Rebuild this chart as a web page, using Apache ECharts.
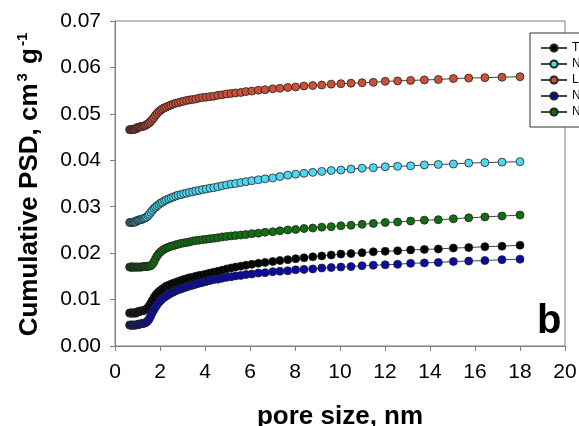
<!DOCTYPE html>
<html>
<head>
<meta charset="utf-8">
<script src="https://cdn.jsdelivr.net/npm/echarts@6/dist/echarts.min.js"></script>
<style>
html, body { margin: 0; padding: 0; background: #fff; }
#main { width: 579px; height: 426px; }
</style>
</head>
<body>
<div id="main"></div>
<script>
var chartDom = document.getElementById('main');
var myChart = echarts.init(chartDom);
var option;

// pore size, nm (shared by all samples)
var poreSize = [0.65, 0.68, 0.71, 0.74, 0.77, 0.80, 0.83, 0.86, 0.90, 0.94,
  0.98, 1.02, 1.06, 1.10, 1.15, 1.20, 1.25, 1.30, 1.35,
  1.41, 1.47, 1.53, 1.59, 1.66, 1.73, 1.80, 1.87, 1.95, 2.03, 2.11,
  2.20, 2.29, 2.39, 2.49, 2.59, 2.70, 2.81, 2.93, 3.05, 3.18,
  3.31, 3.45, 3.59, 3.74, 3.89, 4.05, 4.22, 4.39, 4.57, 4.76,
  4.96, 5.16, 5.36, 5.59, 5.82, 6.08, 6.37, 6.67, 7.01, 7.33,
  7.68, 8.03, 8.40, 8.79, 9.19, 9.61, 10.04, 10.49, 10.98, 11.48,
  12.01, 12.56, 13.14, 13.75, 14.37, 15.04, 15.72, 16.44, 17.20, 18.00];

var psdT = [0.0071, 0.0071, 0.0071, 0.0071, 0.0071, 0.0071, 0.0071, 0.0071, 0.0071, 0.0071,
  0.0073, 0.0074, 0.0074, 0.0075, 0.0075, 0.0076, 0.0076, 0.0077, 0.0078,
  0.0080, 0.0083, 0.0087, 0.0092, 0.0098, 0.0104, 0.0109, 0.0113, 0.0117, 0.0120, 0.0123,
  0.0126, 0.0129, 0.0131, 0.0133, 0.0135, 0.0137, 0.0139, 0.0141, 0.0143, 0.0145,
  0.0147, 0.0148, 0.0150, 0.0152, 0.0153, 0.0155, 0.0157, 0.0159, 0.0161, 0.0163,
  0.0166, 0.0168, 0.0170, 0.0172, 0.0174, 0.0176, 0.0178, 0.0180, 0.0182, 0.0184,
  0.0186, 0.0188, 0.0190, 0.0192, 0.0194, 0.0196, 0.0198, 0.0199, 0.0201, 0.0203,
  0.0204, 0.0205, 0.0207, 0.0208, 0.0209, 0.0211, 0.0212, 0.0214, 0.0215, 0.0217];

var psdN1 = [0.0266, 0.0266, 0.0266, 0.0266, 0.0266, 0.0267, 0.0267, 0.0267, 0.0267, 0.0268,
  0.0270, 0.0271, 0.0271, 0.0272, 0.0272, 0.0273, 0.0274, 0.0275, 0.0276,
  0.0278, 0.0281, 0.0284, 0.0288, 0.0292, 0.0296, 0.0299, 0.0302, 0.0305, 0.0308, 0.0310,
  0.0313, 0.0315, 0.0317, 0.0319, 0.0321, 0.0323, 0.0325, 0.0326, 0.0328, 0.0329,
  0.0331, 0.0332, 0.0334, 0.0335, 0.0337, 0.0338, 0.0340, 0.0341, 0.0343, 0.0345,
  0.0347, 0.0349, 0.0350, 0.0352, 0.0354, 0.0356, 0.0358, 0.0360, 0.0362, 0.0365,
  0.0368, 0.0370, 0.0372, 0.0374, 0.0376, 0.0378, 0.0379, 0.0381, 0.0383, 0.0384,
  0.0386, 0.0387, 0.0388, 0.0390, 0.0391, 0.0392, 0.0394, 0.0395, 0.0396, 0.0397];

var psdL = [0.0466, 0.0466, 0.0466, 0.0466, 0.0466, 0.0467, 0.0467, 0.0467, 0.0467, 0.0468,
  0.0470, 0.0471, 0.0471, 0.0472, 0.0472, 0.0473, 0.0473, 0.0474, 0.0475,
  0.0477, 0.0479, 0.0481, 0.0484, 0.0488, 0.0492, 0.0497, 0.0501, 0.0505, 0.0508, 0.0511,
  0.0513, 0.0515, 0.0517, 0.0519, 0.0521, 0.0523, 0.0524, 0.0526, 0.0527, 0.0529,
  0.0530, 0.0531, 0.0532, 0.0534, 0.0535, 0.0536, 0.0537, 0.0538, 0.0540, 0.0541,
  0.0543, 0.0544, 0.0545, 0.0546, 0.0548, 0.0549, 0.0551, 0.0552, 0.0554, 0.0555,
  0.0557, 0.0558, 0.0560, 0.0561, 0.0562, 0.0564, 0.0565, 0.0566, 0.0567, 0.0568,
  0.0570, 0.0571, 0.0572, 0.0573, 0.0574, 0.0576, 0.0577, 0.0578, 0.0579, 0.0580];

var psdN2 = [0.0045, 0.0045, 0.0045, 0.0045, 0.0045, 0.0045, 0.0045, 0.0045, 0.0045, 0.0045,
  0.0046, 0.0046, 0.0047, 0.0047, 0.0048, 0.0048, 0.0049, 0.0049, 0.0050,
  0.0052, 0.0055, 0.0059, 0.0065, 0.0072, 0.0078, 0.0084, 0.0089, 0.0094, 0.0098, 0.0102,
  0.0105, 0.0108, 0.0111, 0.0114, 0.0116, 0.0119, 0.0121, 0.0123, 0.0125, 0.0127,
  0.0129, 0.0131, 0.0133, 0.0135, 0.0137, 0.0139, 0.0141, 0.0143, 0.0144, 0.0146,
  0.0148, 0.0149, 0.0151, 0.0152, 0.0154, 0.0155, 0.0157, 0.0158, 0.0160, 0.0161,
  0.0162, 0.0164, 0.0165, 0.0166, 0.0168, 0.0169, 0.0170, 0.0171, 0.0173, 0.0174,
  0.0175, 0.0176, 0.0178, 0.0179, 0.0180, 0.0182, 0.0183, 0.0184, 0.0186, 0.0187];

var psdN3 = [0.0170, 0.0170, 0.0170, 0.0170, 0.0170, 0.0170, 0.0170, 0.0170, 0.0170, 0.0170,
  0.0170, 0.0170, 0.0170, 0.0170, 0.0170, 0.0170, 0.0171, 0.0171, 0.0171,
  0.0171, 0.0172, 0.0172, 0.0173, 0.0176, 0.0181, 0.0188, 0.0194, 0.0199, 0.0203, 0.0206,
  0.0209, 0.0211, 0.0213, 0.0215, 0.0216, 0.0218, 0.0219, 0.0221, 0.0222, 0.0223,
  0.0224, 0.0226, 0.0227, 0.0228, 0.0229, 0.0230, 0.0231, 0.0232, 0.0233, 0.0235,
  0.0236, 0.0237, 0.0238, 0.0239, 0.0240, 0.0242, 0.0243, 0.0245, 0.0246, 0.0248,
  0.0250, 0.0251, 0.0253, 0.0254, 0.0256, 0.0257, 0.0259, 0.0260, 0.0262, 0.0264,
  0.0266, 0.0267, 0.0269, 0.0271, 0.0272, 0.0274, 0.0276, 0.0278, 0.0280, 0.0282];

// legend labels are cut by the right edge in the original figure
var sampleNames = ['T', 'N', 'L', 'N ', 'N  '];
var sampleColors = ['#000000', '#4fd6f0', '#cc5038', '#0a0aa8', '#107010'];
var sampleData = [psdT, psdN1, psdL, psdN2, psdN3];

var xTicks = [0, 20, 2];
var yTicks = [0, 0.07, 0.01];

function pairs(ys) {
  return poreSize.map(function (x, i) { return [x, ys[i]]; });
}

var font = 'Arial, "Liberation Sans", sans-serif';

var series = sampleNames.map(function (name, i) {
  return {
    name: name,
    type: 'line',
    data: pairs(sampleData[i]),
    symbol: 'circle',
    symbolSize: 8,
    showSymbol: true,
    animation: false,
    lineStyle: { color: '#444', width: 1 },
    itemStyle: { color: sampleColors[i], borderColor: '#222', borderWidth: 0.8 },
    emphasis: { disabled: true }
  };
});

option = {
  backgroundColor: '#fff',
  animation: false,
  grid: {
    left: 115,
    right: 14,
    top: 21,
    bottom: 80,
    outerBoundsMode: 'none',
    show: true,
    borderColor: '#808080',
    borderWidth: 1
  },
  legend: {
    orient: 'vertical',
    left: 530,
    top: 33,
    padding: [9, 30, 9, 10],
    itemGap: 4,
    itemWidth: 26,
    itemHeight: 9,
    backgroundColor: '#fff',
    borderColor: '#333',
    borderWidth: 1,
    borderRadius: 0,
    textStyle: { fontFamily: font, fontSize: 12, color: '#000', lineHeight: 12 },
    data: sampleNames
  },
  xAxis: {
    type: 'value',
    min: xTicks[0],
    max: xTicks[1],
    interval: xTicks[2],
    name: 'pore size, nm',
    nameLocation: 'middle',
    nameGap: 58,
    nameTextStyle: { fontFamily: font, fontSize: 26, fontWeight: 'bold', color: '#000' },
    axisLine: { lineStyle: { color: '#808080', width: 1 } },
    axisTick: { inside: false, length: 5, lineStyle: { color: '#808080' } },
    axisLabel: { fontFamily: font, fontSize: 21, color: '#000', margin: 16 },
    splitLine: { show: false }
  },
  yAxis: {
    type: 'value',
    min: yTicks[0],
    max: yTicks[1],
    interval: yTicks[2],
    name: '{a|Cumulative PSD, cm}{s|3}{a| g}{s|-1}',
    nameLocation: 'middle',
    nameGap: 70,
    nameTextStyle: {
      rich: {
        a: { fontFamily: font, fontSize: 26, fontWeight: 'bold', color: '#000', lineHeight: 30 },
        s: { fontFamily: font, fontSize: 15, fontWeight: 'bold', color: '#000', verticalAlign: 'top', lineHeight: 30, padding: [0, 2, 16, 2] }
      }
    },
    axisLine: { show: true, lineStyle: { color: '#808080', width: 1 } },
    axisTick: { show: true, inside: false, length: 5, lineStyle: { color: '#808080' } },
    axisLabel: {
      fontFamily: font, fontSize: 21, color: '#000', margin: 14,
      formatter: function (v) { return v.toFixed(2); }
    },
    splitLine: { show: false }
  },
  graphic: [{
    type: 'text',
    left: 537,
    top: 302,
    style: { text: 'b', font: 'bold 40px ' + font, fill: '#000' }
  }],
  series: series
};

option && myChart.setOption(option);
</script>
</body>
</html>
